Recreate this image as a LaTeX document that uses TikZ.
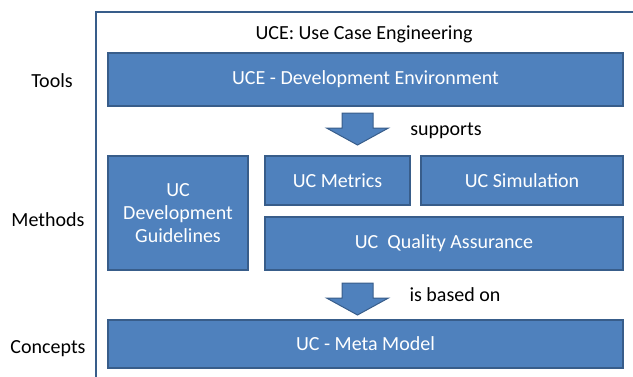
\documentclass[tikz,border=0pt]{standalone}
\usepackage{fontspec}
\setmainfont{Carlito}
\begin{document}
\begin{tikzpicture}[x=1pt,y=-1pt]
\definecolor{boxfill}{RGB}{79,129,189}
\definecolor{boxline}{RGB}{56,93,138}
\tikzstyle{layerbox}=[draw=boxline,fill=boxfill,line width=1.5pt,text=white,inner sep=0pt,align=center,font=\fontsize{20}{23}\selectfont]
\tikzstyle{layerlabel}=[text=black,inner sep=0pt,font=\fontsize{20}{23}\selectfont]
\tikzstyle{flowarrow}=[draw=boxline,fill=boxfill,line width=1pt,line join=miter]
\tikzstyle{frame}=[draw=boxline,line width=2pt]
\useasboundingbox (0,0) rectangle (633,376);
\clip (0,0) rectangle (633,376);
% outer frame, runs off the page
\draw[frame] (96,400) -- (96,12) -- (650,12);
\node[layerlabel] (title) at (364,34) {UCE: Use Case Engineering};
% layer names
\node[layerlabel] (tools) at (52,81) {Tools};
\node[layerlabel] (methods) at (48,220) {Methods};
\node[layerlabel] (concepts) at (48,349) {Concepts};
% boxes
\node[layerbox,minimum width=515,minimum height=53] (env) at (365.5,79.5) {UCE - Development Environment};
\node[layerbox,minimum width=140,minimum height=114] (guide) at (178,213) {UC\\Development\\Guidelines};
\node[layerbox,minimum width=145,minimum height=49] (metrics) at (337.5,180.5) {UC Metrics};
\node[layerbox,minimum width=202,minimum height=49] (sim) at (522,180.5) {UC Simulation};
\node[layerbox,minimum width=358,minimum height=53] (qa) at (444,243.5) {UC\ \ Quality Assurance};
\node[layerbox,minimum width=515,minimum height=48] (meta) at (365.5,344) {UC - Meta Model};
% block arrows
\coordinate (a1) at (357.5,113);
\coordinate (a2) at (357.5,283);
\draw[flowarrow] (a1) ++(-15.5,0) -- ++(0,15) -- ++(-15.5,0) -- ++(31,17) -- ++(31,-17) -- ++(-15.5,0) -- ++(0,-15) -- cycle;
\draw[flowarrow] (a2) ++(-15.5,0) -- ++(0,15) -- ++(-15.5,0) -- ++(31,17) -- ++(31,-17) -- ++(-15.5,0) -- ++(0,-15) -- cycle;
\node[layerlabel] (supports) at (446,131) {supports};
\node[layerlabel] (based) at (455,295) {is based on};
\end{tikzpicture}
\end{document}
